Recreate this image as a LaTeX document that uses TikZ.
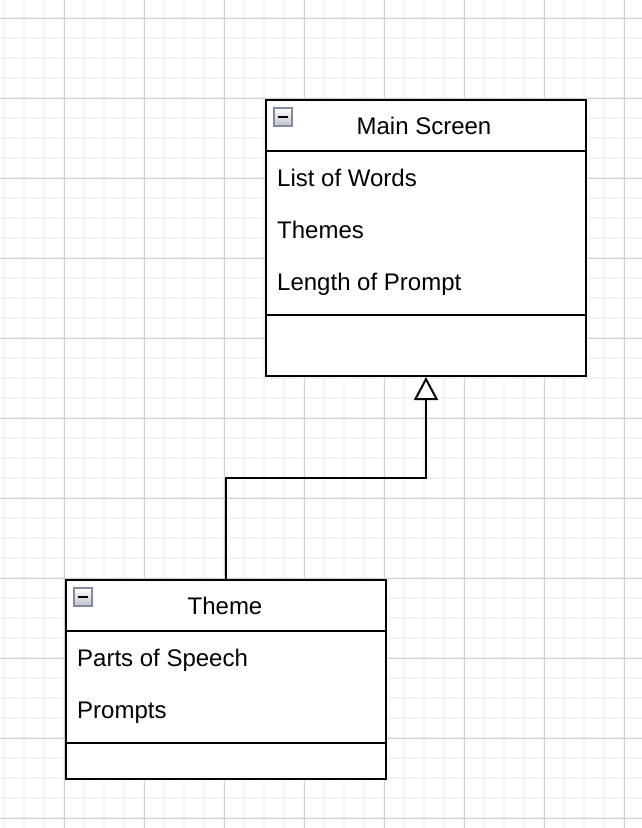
\documentclass[tikz,border=0pt]{standalone}
\usepackage{fontspec}
\setmainfont{Liberation Sans}
\usetikzlibrary{arrows.meta,calc}
\definecolor{minorgrid}{RGB}{244,244,244}
\definecolor{majorgrid}{RGB}{208,208,208}
\definecolor{iconborder}{RGB}{128,138,160}
\begin{document}
\begin{tikzpicture}[x=1pt,y=-1pt,
  umlbox/.style={draw=black,line width=2pt,fill=white,rectangle,minimum width=320pt,inner sep=0pt,anchor=north west},
  sepline/.style={draw=black,line width=2pt},
  label/.style={inner sep=0pt,anchor=base west,font=\fontsize{24}{28}\selectfont},
  title/.style={inner sep=0pt,anchor=base,font=\fontsize{24}{28}\selectfont},
  conn/.style={draw=black,line width=2pt},
  icon/.style={draw=iconborder,line width=1.8pt,top color=white,bottom color={rgb,255:red,190;green,194;blue,202}}
]
\useasboundingbox (0,0) rectangle (642,828);
\fill[white] (0,0) rectangle (642,828);
% grid
\foreach \x in {4,24,...,644} \draw[minorgrid,line width=1.7pt] (\x,0) -- (\x,828);
\foreach \y in {-2,18,...,838} \draw[minorgrid,line width=1.7pt] (0,\y) -- (642,\y);
\foreach \x in {64,144,...,644} \draw[majorgrid,line width=1pt] (\x,0) -- (\x,828);
\foreach \y in {18,98,...,838} \draw[majorgrid,line width=1pt] (0,\y) -- (642,\y);

% Main Screen class
\node[umlbox,minimum height=276pt] (ms) at (265,99) {};
\draw[sepline] (265,151) -- (585,151);
\draw[sepline] (265,315) -- (585,315);
\shade[icon] (274,108) rectangle (292,126);
\draw[line width=2.5pt] (278,117) -- (288,117);
\node[title] (mst) at (424,134.6) {Main Screen};
\node[label] (ms1) at (277,186.6) {List of Words};
\node[label] (ms2) at (277,238.6) {Themes};
\node[label] (ms3) at (277,290.6) {Length of Prompt};

% Theme class
\node[umlbox,minimum height=199pt] (th) at (65,579) {};
\draw[sepline] (65,631) -- (385,631);
\draw[sepline] (65,743) -- (385,743);
\shade[icon] (74,588) rectangle (92,606);
\draw[line width=2.5pt] (78,597) -- (88,597);
\node[title] (tht) at (225,614.6) {Theme};
\node[label] (th1) at (77,666.6) {Parts of Speech};
\node[label] (th2) at (77,718.6) {Prompts};

% generalization
\coordinate (mid) at ($(th.north)!0.5!(ms.south)$);
\draw[conn,-{Triangle[open,fill=white,length=23pt,width=24pt]}] (th.north) |- (mid) -| (ms.south);
\end{tikzpicture}
\end{document}
